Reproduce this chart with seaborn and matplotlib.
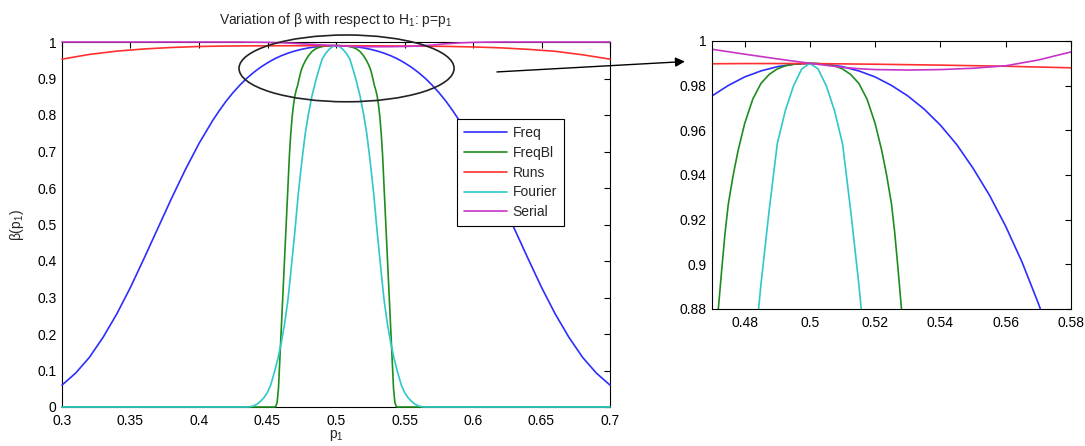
import matplotlib
matplotlib.use('Agg')
import numpy as np
import pandas as pd
import matplotlib.pyplot as plt
import seaborn as sns
from matplotlib.patches import Ellipse
from matplotlib.ticker import FuncFormatter

# --- data (beta as a function of p1) ---
freq_p = [0.30, 0.31, 0.32, 0.33, 0.34, 0.35, 0.36, 0.37, 0.38, 0.39, 0.40, 0.41,
          0.415, 0.42, 0.425, 0.43, 0.435, 0.44, 0.445, 0.45, 0.455, 0.46, 0.465,
          0.47, 0.475, 0.48, 0.485, 0.49, 0.495, 0.50, 0.505, 0.51, 0.515, 0.52,
          0.525, 0.53, 0.535, 0.54, 0.545, 0.55, 0.555, 0.56, 0.565, 0.57, 0.575,
          0.58, 0.585, 0.59, 0.60, 0.61, 0.62, 0.63, 0.64, 0.65, 0.66, 0.67, 0.68,
          0.69, 0.70]
freq_beta = [0.060, 0.093, 0.136, 0.191, 0.255, 0.328, 0.408, 0.490, 0.572, 0.650,
             0.722, 0.785, 0.813, 0.839, 0.862, 0.8825, 0.901, 0.917, 0.931, 0.943,
             0.9536, 0.9623, 0.9695, 0.9754, 0.9801, 0.9839, 0.9866, 0.9885, 0.9896,
             0.990, 0.9896, 0.9885, 0.9866, 0.9839, 0.9801, 0.9754, 0.9695, 0.9623,
             0.9536, 0.943, 0.931, 0.917, 0.901, 0.8825, 0.862, 0.839, 0.813, 0.785,
             0.722, 0.650, 0.572, 0.490, 0.408, 0.328, 0.255, 0.191, 0.136, 0.093,
             0.060]

freqbl_p = [0.30, 0.45, 0.455, 0.456, 0.457, 0.458, 0.459, 0.460, 0.461, 0.462, 0.463,
            0.464, 0.465, 0.466, 0.467, 0.468, 0.469, 0.470, 0.471, 0.472, 0.473, 0.474,
            0.475, 0.4765, 0.478, 0.480, 0.4825, 0.485, 0.4875, 0.490, 0.4925, 0.495,
            0.4975, 0.500, 0.5025, 0.505, 0.5075, 0.510, 0.5125, 0.515, 0.5175, 0.520,
            0.522, 0.5235, 0.525, 0.526, 0.527, 0.528, 0.529, 0.530, 0.531, 0.532,
            0.533, 0.534, 0.535, 0.536, 0.537, 0.538, 0.539, 0.540, 0.541, 0.542,
            0.543, 0.544, 0.545, 0.55, 0.70]
freqbl_beta = [0.0, 0.0, 0.0, 0.001, 0.012, 0.05, 0.13, 0.21, 0.29, 0.37, 0.45,
               0.53, 0.61, 0.69, 0.75, 0.795, 0.828, 0.853, 0.869, 0.881, 0.898, 0.914,
               0.927, 0.940, 0.951, 0.963, 0.974, 0.981, 0.985, 0.9875, 0.9889, 0.9896,
               0.9899, 0.990, 0.9899, 0.9896, 0.9889, 0.9875, 0.985, 0.981, 0.974, 0.963,
               0.951, 0.940, 0.927, 0.914, 0.898, 0.881, 0.869, 0.853, 0.828, 0.795,
               0.75, 0.69, 0.61, 0.53, 0.45, 0.37, 0.29, 0.21, 0.13, 0.05,
               0.012, 0.001, 0.0, 0.0, 0.0]

runs_p = [0.30, 0.32, 0.34, 0.36, 0.38, 0.40, 0.42, 0.44, 0.46, 0.48, 0.50, 0.52,
          0.54, 0.56, 0.58, 0.60, 0.62, 0.64, 0.66, 0.68, 0.70]
runs_beta = [0.953, 0.966, 0.975, 0.981, 0.985, 0.9877, 0.989, 0.9895, 0.9897, 0.9899,
             0.9899, 0.9896, 0.9892, 0.9887, 0.9880, 0.9865, 0.984, 0.980, 0.9745,
             0.965, 0.953]

fourier_p = [0.30, 0.43, 0.435, 0.4375, 0.44, 0.4425, 0.445, 0.4475, 0.45, 0.4525,
             0.455, 0.4575, 0.46, 0.4625, 0.465, 0.4675, 0.47, 0.4725, 0.475, 0.4775,
             0.48, 0.4825, 0.485, 0.4875, 0.49, 0.4925, 0.495, 0.4975, 0.50, 0.5025,
             0.505, 0.5075, 0.51, 0.5125, 0.515, 0.5175, 0.52, 0.5225, 0.525, 0.5275,
             0.53, 0.5325, 0.535, 0.5375, 0.54, 0.5425, 0.545, 0.5475, 0.55, 0.5525,
             0.555, 0.5575, 0.56, 0.5625, 0.565, 0.57, 0.70]
fourier_beta = [0.0, 0.0, 0.0, 0.001, 0.003, 0.008, 0.016, 0.026, 0.040, 0.062,
                0.095, 0.131, 0.175, 0.228, 0.296, 0.387, 0.482, 0.585, 0.671, 0.748,
                0.805, 0.853, 0.891, 0.924, 0.954, 0.969, 0.980, 0.9875, 0.990, 0.9875,
                0.980, 0.969, 0.954, 0.924, 0.891, 0.853, 0.805, 0.748, 0.671, 0.585,
                0.482, 0.387, 0.296, 0.228, 0.175, 0.131, 0.095, 0.062, 0.040, 0.026,
                0.016, 0.008, 0.003, 0.001, 0.0, 0.0, 0.0]

serial_p = [0.30, 0.40, 0.43, 0.44, 0.45, 0.46, 0.47, 0.48, 0.49, 0.50, 0.51, 0.515,
            0.52, 0.53, 0.54, 0.55, 0.56, 0.57, 0.58, 0.59, 0.60, 0.61, 0.62, 0.70]
serial_beta = [1.0, 1.0, 0.9999, 0.9996, 0.9991, 0.9980, 0.9963, 0.9941, 0.9920, 0.9900,
               0.9882, 0.9876, 0.9872, 0.9870, 0.9872, 0.9878, 0.9889, 0.9915, 0.9951,
               0.9975, 0.9990, 0.9997, 1.0, 1.0]

tests = ['Freq', 'FreqBl', 'Runs', 'Fourier', 'Serial']
colors = ['#2d2dff', '#1f8c1f', '#ff3030', '#2ec8c8', '#c834c8']

x1_ticks = [0.3, 0.35, 0.4, 0.45, 0.5, 0.55, 0.6, 0.65, 0.7]
y1_ticks = [0, 0.1, 0.2, 0.3, 0.4, 0.5, 0.6, 0.7, 0.8, 0.9, 1]
x2_ticks = [0.48, 0.5, 0.52, 0.54, 0.56, 0.58]
y2_ticks = [0.88, 0.9, 0.92, 0.94, 0.96, 0.98, 1]

series = {
    'Freq': (freq_p, freq_beta),
    'FreqBl': (freqbl_p, freqbl_beta),
    'Runs': (runs_p, runs_beta),
    'Fourier': (fourier_p, fourier_beta),
    'Serial': (serial_p, serial_beta),
}
df = pd.concat([pd.DataFrame({'p1': p, 'beta': b, 'test': name})
                for name, (p, b) in series.items()], ignore_index=True)
palette = dict(zip(tests, colors))

sns.set_style('white')
plt.rcParams['font.family'] = ['Liberation Sans', 'DejaVu Sans']
plt.rcParams['mathtext.fontset'] = 'custom'
plt.rcParams['mathtext.rm'] = 'Liberation Sans'
plt.rcParams['mathtext.it'] = 'Liberation Sans:italic'
plt.rcParams['font.size'] = 10

fig = plt.figure(figsize=(10.85, 4.46), dpi=100)
ax1 = fig.add_axes([62 / 1085, 1 - 407 / 446, 548 / 1085, 365 / 446])
ax2 = fig.add_axes([712 / 1085, 1 - 309 / 446, 359 / 1085, 268 / 446])

fmt = FuncFormatter(lambda v, _: f'{v:g}')

def style_axes(ax, xt, yt, xlim, ylim):
    ax.set_xlim(*xlim)
    ax.set_ylim(*ylim)
    ax.set_xticks(xt)
    ax.set_yticks(yt)
    ax.xaxis.set_major_formatter(fmt)
    ax.yaxis.set_major_formatter(fmt)
    ax.tick_params(direction='in', length=4, width=0.8, top=True, right=True,
                   labelsize=10, colors='black')
    ax.tick_params(axis='x', pad=5)
    ax.tick_params(axis='y', pad=4)
    for s in ax.spines.values():
        s.set_color('black')
        s.set_linewidth(0.8)

# left panel: full range
sns.lineplot(data=df, x='p1', y='beta', hue='test', hue_order=tests, palette=palette,
             estimator=None, sort=False, linewidth=1.2, ax=ax1, clip_on=False, zorder=3)
style_axes(ax1, x1_ticks, y1_ticks, (0.3, 0.7), (0, 1))
ax1.set_xlabel('p$\\mathregular{_1}$', fontsize=10, labelpad=0)
ax1.set_ylabel('β(p$\\mathregular{_1}$)', fontsize=10, labelpad=8)
ax1.set_title('Variation of β with respect to H$\\mathregular{_1}$: p=p$\\mathregular{_1}$',
              fontsize=10, pad=13)

handles, labels = ax1.get_legend_handles_labels()
leg = ax1.legend(handles, labels, loc='upper left', bbox_to_anchor=(0.721, 0.789),
                 fontsize=10, handlelength=3.1, handletextpad=0.4, labelspacing=0.42,
                 borderpad=0.5, borderaxespad=0, fancybox=False, framealpha=1,
                 edgecolor='black')
leg.get_frame().set_linewidth(0.8)

# right panel: zoom around p1 = 0.5
sns.lineplot(data=df, x='p1', y='beta', hue='test', hue_order=tests, palette=palette,
             estimator=None, sort=False, linewidth=1.2, ax=ax2, legend=False)
style_axes(ax2, x2_ticks, y2_ticks, (0.47, 0.58), (0.88, 1.0))
ax2.set_xlabel('')
ax2.set_ylabel('')

# ellipse around the zoomed region + arrow to the zoom panel
ell = Ellipse((0.5077, 0.9277), 0.157, 0.183, fill=False, edgecolor='#222222',
              linewidth=1.2, clip_on=False, zorder=4)
ax1.add_patch(ell)
ax1.annotate('', xy=(0.4617, 0.9908), xycoords=ax2.transData,
             xytext=(0.6175, 0.918), textcoords=ax1.transData,
             arrowprops=dict(arrowstyle='-|>', mutation_scale=14, color='black',
                             linewidth=1.0, shrinkA=0, shrinkB=0),
             annotation_clip=False, zorder=5)

fig.savefig('out.png', dpi=100)
